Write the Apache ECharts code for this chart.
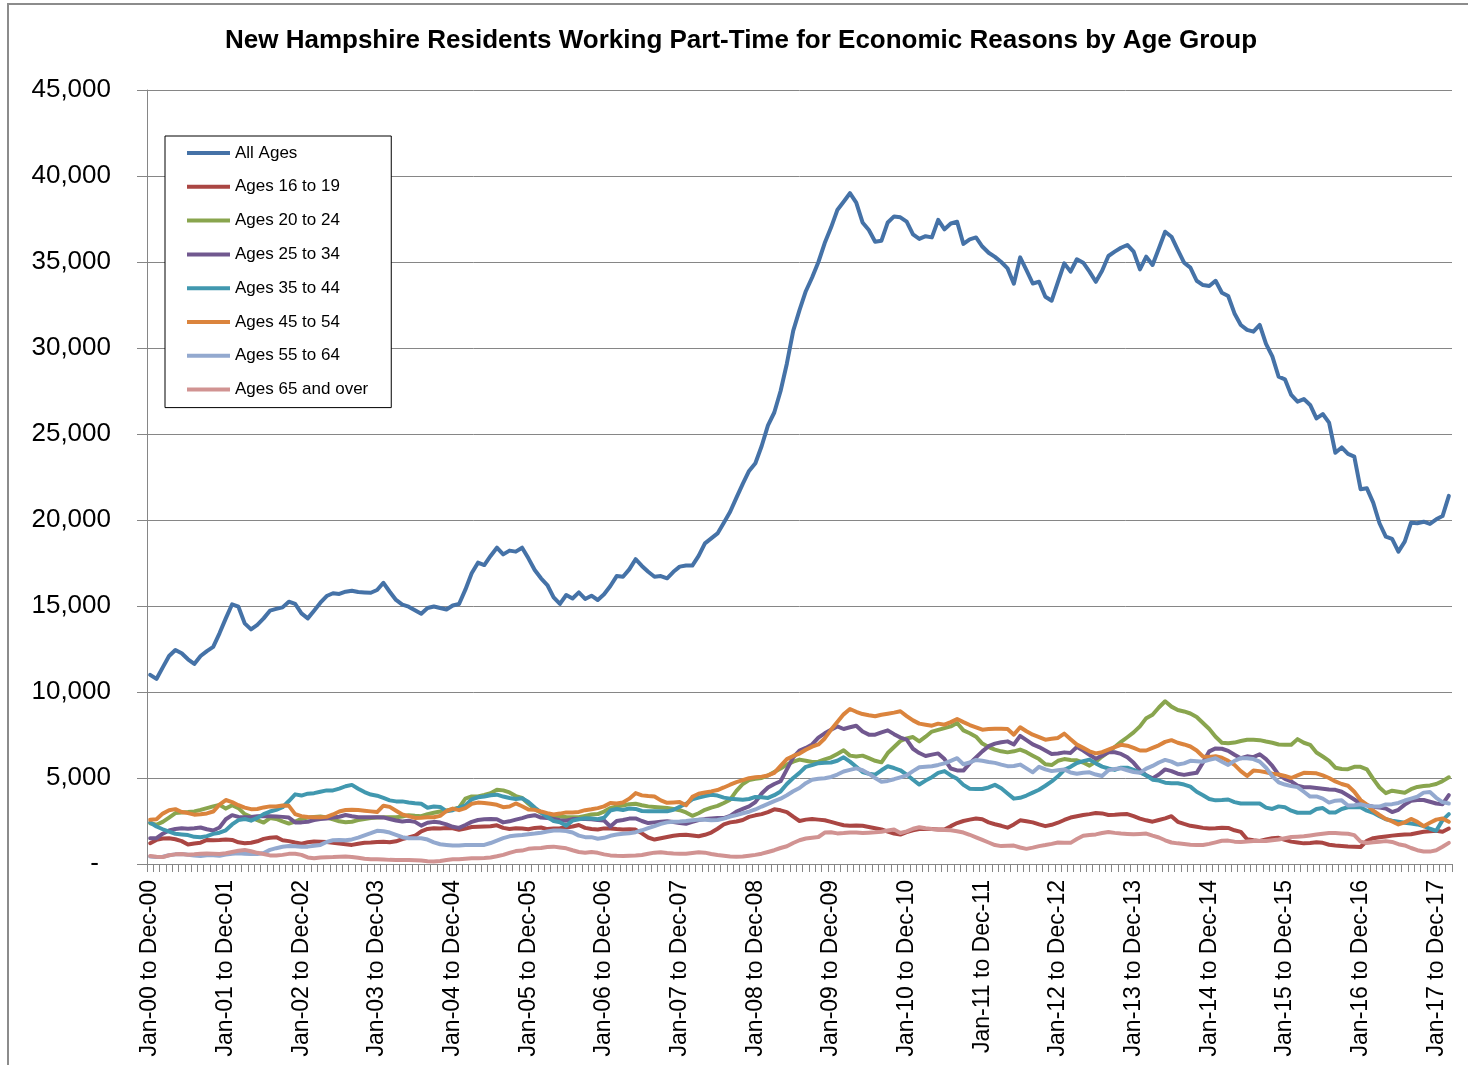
<!DOCTYPE html>
<html>
<head>
<meta charset="utf-8">
<title>New Hampshire Residents Working Part-Time for Economic Reasons by Age Group</title>
<script src="https://cdn.jsdelivr.net/npm/echarts@6/dist/echarts.min.js"></script>
<style>
  html, body { margin: 0; padding: 0; background: #ffffff; }
  #chart { width: 1468px; height: 1065px; }
</style>
</head>
<body>
<div id="chart"></div>
<script>
// Rolling 12-month periods, Jan-00 to Dec-00 through Mar-17 to Feb-18
const monthNames = ['Jan','Feb','Mar','Apr','May','Jun','Jul','Aug','Sep','Oct','Nov','Dec'];
const periodCount = 207;
const periods = [];
for (let i = 0; i < periodCount; i++) {
  const sm = i % 12, sy = Math.floor(i / 12);
  const em = (sm + 11) % 12, ey = sy + (sm + 11 >= 12 ? 1 : 0);
  const yy = n => String(n).padStart(2, '0');
  periods.push(monthNames[sm] + '-' + yy(sy) + ' to ' + monthNames[em] + '-' + yy(ey));
}

const yTicks = [0, 5000, 10000, 15000, 20000, 25000, 30000, 35000, 40000, 45000];

const seriesNames = ['All Ages', 'Ages 16 to 19', 'Ages 20 to 24', 'Ages 25 to 34',
  'Ages 35 to 44', 'Ages 45 to 54', 'Ages 55 to 64', 'Ages 65 and over'];

// One row per twelve periods
const allAges = [
  11000,10760,11430,12090,12440,12250,11900,11630,12090,12380,12620,13410,
  14280,15100,14960,13990,13640,13900,14280,14730,14830,14920,15250,15120,
  14570,14280,14730,15190,15580,15740,15700,15830,15890,15810,15790,15770,
  15930,16350,15830,15350,15080,14960,14750,14550,14880,14970,14880,14800,
  15030,15120,15950,16900,17520,17380,17910,18390,18000,18220,18160,18390,
  17770,17090,16610,16220,15500,15120,15640,15440,15790,15410,15600,15350,
  15680,16160,16740,16700,17130,17720,17330,16990,16700,16740,16610,16990,
  17290,17350,17350,17910,18640,18930,19220,19840,20480,21300,22100,22850,
  23300,24300,25500,26250,27500,29100,31000,32200,33300,34100,35000,36100,
  37000,38020,38500,39000,38450,37300,36860,36180,36240,37300,37650,37600,
  37350,36600,36340,36500,36430,37450,36900,37240,37340,36050,36320,36430,
  35900,35540,35300,35000,34630,33740,35270,34530,33750,33850,32980,32750,
  33850,34920,34440,35160,34960,34440,33850,34490,35350,35600,35830,35990,
  35600,34570,35310,34830,35790,36760,36470,35700,34960,34670,33910,33660,
  33600,33910,33210,33020,32010,31340,31050,30950,31340,30240,29510,28330,
  28180,27270,26880,27030,26690,25910,26160,25660,23910,24220,23840,23680,
  21790,21840,21010,19810,19030,18900,18160,18740,19840,19810,19900,19770,
  20040,20230,21400
];

const ages16to19 = [
  1210,1400,1480,1500,1440,1330,1130,1190,1240,1400,1380,1390,
  1430,1400,1260,1210,1240,1320,1460,1530,1560,1380,1330,1250,
  1180,1260,1310,1300,1280,1240,1190,1150,1110,1180,1230,1250,
  1280,1300,1260,1320,1450,1540,1640,1900,2040,2080,2070,2090,
  2080,1990,2060,2150,2170,2180,2190,2250,2100,2040,2080,2060,
  2020,2100,2120,2030,2060,2080,2120,2180,2270,2100,2040,2010,
  2070,2060,2030,2010,2020,2000,1780,1540,1420,1500,1570,1640,
  1690,1700,1660,1610,1700,1830,2050,2300,2420,2470,2560,2740,
  2830,2900,3020,3180,3120,3020,2750,2500,2580,2610,2580,2540,
  2450,2350,2250,2230,2240,2220,2150,2080,2010,1880,1770,1710,
  1850,1960,2030,2040,2030,2010,2000,2200,2380,2500,2580,2650,
  2600,2420,2310,2220,2110,2300,2540,2480,2420,2300,2200,2280,
  2400,2560,2700,2780,2850,2900,2960,2940,2850,2860,2890,2900,
  2780,2640,2540,2460,2560,2650,2780,2450,2330,2220,2160,2100,
  2060,2080,2110,2100,1960,1870,1440,1380,1340,1420,1500,1520,
  1400,1300,1250,1200,1220,1260,1230,1120,1080,1050,1020,1010,
  990,1350,1500,1550,1600,1650,1680,1710,1730,1800,1870,1900,
  1930,1870,2060
];

const ages20to24 = [
  2370,2280,2450,2700,2960,3000,3020,3060,3150,3250,3350,3440,
  3220,3420,3250,2900,2740,2550,2410,2670,2620,2480,2350,2460,
  2620,2700,2740,2760,2700,2590,2480,2430,2460,2550,2620,2680,
  2710,2720,2720,2720,2760,2840,2800,2780,2900,2980,3050,3110,
  3180,3280,3800,3930,3930,4020,4120,4320,4280,4160,3950,3840,
  3500,3200,2980,2880,2800,2760,2730,2720,2720,2800,2880,2900,
  3050,3250,3350,3400,3480,3500,3420,3350,3320,3290,3260,3200,
  3130,3000,2800,2950,3150,3280,3380,3550,3740,4250,4650,4880,
  4950,5000,5150,5350,5550,5780,5950,6070,6000,5930,5950,6080,
  6200,6400,6610,6300,6250,6300,6150,6000,5910,6450,6800,7150,
  7300,7380,7130,7400,7700,7800,7900,8000,8200,7770,7600,7400,
  7000,6800,6650,6550,6490,6550,6650,6500,6300,6100,5800,5750,
  6000,6100,6050,6030,5900,5720,5950,6250,6500,6800,7100,7370,
  7650,8000,8480,8680,9100,9460,9150,8950,8870,8750,8550,8200,
  7850,7400,7050,7020,7060,7150,7220,7220,7200,7120,7050,6950,
  6930,6930,7260,7050,6930,6480,6250,6000,5600,5520,5510,5650,
  5650,5500,4950,4450,4120,4260,4200,4140,4350,4480,4530,4570,
  4650,4820,5040
];

const ages25to34 = [
  1500,1500,1760,1950,2040,2080,2050,2080,2120,2020,1950,2120,
  2600,2840,2740,2720,2740,2770,2790,2780,2760,2740,2700,2420,
  2420,2460,2550,2610,2650,2700,2750,2850,2780,2720,2720,2720,
  2720,2710,2620,2530,2470,2510,2450,2230,2400,2450,2410,2300,
  2160,2100,2270,2450,2560,2600,2610,2600,2420,2480,2580,2670,
  2780,2840,2700,2670,2620,2540,2520,2610,2610,2610,2600,2560,
  2530,2180,2500,2560,2640,2650,2500,2380,2420,2460,2480,2440,
  2380,2340,2450,2560,2610,2650,2670,2670,2800,3050,3200,3350,
  3600,4100,4450,4650,4810,5500,6200,6600,6750,6950,7350,7600,
  7800,8000,7850,7950,8040,7700,7520,7520,7650,7770,7550,7350,
  7230,6700,6450,6280,6360,6430,6100,5550,5440,5430,5850,6200,
  6550,6850,7000,7080,7130,6950,7450,7200,6950,6800,6600,6400,
  6420,6490,6460,6800,6600,6350,6120,6300,6500,6500,6400,6200,
  5880,5450,5150,4980,5200,5500,5400,5250,5180,5250,5300,5900,
  6550,6720,6700,6580,6350,6150,6260,6210,6380,6100,5700,5200,
  4950,4800,4550,4460,4460,4420,4380,4330,4310,4200,3980,3750,
  3520,3420,3330,3280,3230,3020,3150,3450,3680,3720,3720,3620,
  3520,3480,4010
];

const ages35to44 = [
  2410,2180,2020,1880,1760,1720,1680,1580,1560,1620,1750,1820,
  1960,2300,2550,2620,2520,2680,2900,3050,3150,3300,3660,4050,
  3980,4090,4120,4200,4280,4280,4380,4520,4600,4380,4180,4040,
  3970,3840,3700,3640,3640,3580,3530,3500,3270,3340,3320,3070,
  3130,3280,3400,3760,3880,3920,4000,4030,3920,3840,3780,3820,
  3600,3280,3000,2730,2500,2430,2230,2520,2600,2660,2640,2600,
  2690,3110,3200,3140,3230,3200,3080,3060,3060,3060,3060,3150,
  3330,3500,3760,3860,3950,4020,3980,3860,3800,3770,3740,3780,
  3900,3880,3840,4000,4220,4650,5000,5300,5650,5750,5860,5880,
  5900,6000,6200,5950,5650,5350,5250,5190,5450,5680,5580,5450,
  5200,4900,4620,4850,5050,5300,5400,5150,4950,4600,4380,4360,
  4360,4450,4600,4400,4100,3800,3850,3980,4150,4320,4550,4800,
  5100,5480,5650,5870,5980,6070,5850,5660,5550,5470,5600,5600,
  5470,5320,5150,4900,4850,4730,4700,4690,4620,4500,4200,4000,
  3780,3700,3720,3750,3600,3520,3520,3520,3520,3280,3200,3350,
  3300,3100,2980,2980,2980,3200,3250,3000,3000,3200,3300,3320,
  3300,3100,2980,2780,2600,2520,2460,2400,2350,2300,2200,2050,
  1930,2550,2900
];

const ages45to54 = [
  2570,2600,2930,3120,3190,3020,2960,2870,2890,2940,3050,3450,
  3720,3600,3420,3280,3190,3200,3290,3350,3340,3400,3380,2900,
  2780,2730,2720,2720,2740,2880,3050,3140,3150,3140,3100,3060,
  3020,3390,3320,3100,2880,2780,2680,2690,2720,2720,2800,3080,
  3220,3130,3250,3500,3570,3550,3500,3440,3300,3340,3520,3360,
  3170,3150,3050,2960,2880,2930,3000,3000,3030,3130,3180,3250,
  3350,3550,3520,3580,3800,4120,3990,3950,3920,3700,3560,3580,
  3600,3420,3900,4080,4160,4220,4300,4450,4610,4760,4880,4990,
  5040,5080,5150,5300,5700,6100,6280,6420,6640,6820,6950,7300,
  7800,8250,8700,9010,8850,8720,8650,8590,8680,8740,8800,8880,
  8600,8350,8160,8100,8040,8160,8100,8250,8430,8250,8080,7950,
  7810,7850,7870,7860,7850,7520,7950,7720,7520,7380,7230,7280,
  7330,7580,7250,6940,6750,6550,6430,6500,6650,6800,6930,6880,
  6750,6600,6600,6750,6900,7100,7200,7050,6950,6830,6600,6250,
  6220,6270,6180,6000,5760,5400,5120,5430,5400,5330,5250,5200,
  5120,5000,5150,5300,5290,5270,5150,5000,4800,4650,4550,4200,
  3720,3450,3100,2850,2620,2480,2300,2420,2620,2450,2200,2400,
  2580,2650,2450
];

const ages55to64 = [
  430,400,420,510,560,580,540,500,470,510,510,480,
  550,600,620,590,580,580,640,820,920,1000,1050,1030,
  1010,1010,1060,1110,1280,1380,1400,1380,1430,1530,1660,1790,
  1930,1900,1830,1700,1560,1500,1500,1500,1420,1260,1150,1110,
  1070,1070,1100,1110,1110,1110,1220,1360,1500,1610,1660,1690,
  1730,1770,1820,1890,1950,1950,1920,1830,1650,1560,1560,1470,
  1520,1640,1710,1760,1790,1850,1960,2080,2200,2330,2420,2450,
  2470,2500,2540,2580,2570,2550,2560,2640,2760,2840,2950,3040,
  3170,3340,3500,3660,3800,4000,4230,4420,4700,4900,4960,4990,
  5060,5200,5380,5470,5560,5450,5250,5000,4780,4830,4930,5040,
  5150,5400,5620,5660,5680,5760,5850,6000,6150,5800,5900,6050,
  6000,5930,5880,5780,5690,5700,5780,5560,5330,5650,5500,5400,
  5450,5500,5320,5250,5300,5330,5200,5120,5450,5530,5560,5450,
  5350,5300,5550,5700,5900,6050,5950,5780,5850,6000,5980,5950,
  6050,6150,5950,5760,6000,6150,6150,6100,5950,5600,5100,4750,
  4620,4530,4470,4200,3920,3930,3800,3570,3680,3700,3400,3420,
  3470,3380,3350,3340,3460,3480,3550,3690,3800,3910,4150,4180,
  3850,3600,3520
];

const ages65plus = [
  470,420,400,510,560,580,540,560,590,610,600,580,
  630,700,770,820,740,650,580,500,490,530,590,600,
  530,380,330,380,390,400,420,430,410,360,300,270,
  270,260,240,230,230,230,220,200,160,140,180,230,
  270,270,300,330,330,350,380,450,530,650,750,780,
  880,910,930,990,1010,960,910,800,700,660,700,650,
  560,500,480,470,480,490,520,600,660,680,640,610,
  600,600,640,680,660,580,520,480,440,420,430,480,
  530,600,700,800,930,1030,1220,1380,1480,1530,1570,1830,
  1850,1780,1800,1830,1830,1800,1820,1840,1880,1950,2000,1800,
  1900,2050,2140,2080,2030,2000,1980,1960,1900,1830,1700,1550,
  1400,1250,1100,1040,1060,1070,960,880,950,1040,1100,1170,
  1250,1240,1230,1450,1640,1680,1720,1800,1860,1810,1770,1750,
  1730,1750,1770,1650,1540,1380,1250,1200,1160,1120,1100,1110,
  1170,1260,1350,1360,1300,1280,1310,1340,1340,1340,1380,1420,
  1500,1570,1590,1610,1660,1710,1760,1800,1800,1780,1760,1680,
  1300,1220,1260,1300,1330,1280,1150,1080,930,800,730,720,
  800,1000,1230
];

const seriesValues = [allAges, ages16to19, ages20to24, ages25to34,
  ages35to44, ages45to54, ages55to64, ages65plus];
const seriesColors = ['#4572A7', '#AA4643', '#89A54E', '#71588F',
  '#4198AF', '#DB843D', '#93A9CF', '#D19392'];

const gridGray = '#868686';
const sansFont = "'Liberation Sans', Arial, sans-serif";

const chart = echarts.init(document.getElementById('chart'), null, { renderer: 'canvas' });

chart.setOption({
  animation: false,
  backgroundColor: '#ffffff',
  graphic: [
    {
      type: 'rect',
      shape: { x: 8, y: 4, width: 2000, height: 2000 },
      style: { fill: 'none', stroke: '#8c8c8c', lineWidth: 2 },
      silent: true
    },
    {
      type: 'text',
      x: 741, y: 41,
      style: {
        text: 'New Hampshire Residents Working Part-Time for Economic Reasons by Age Group',
        fill: '#000',
        font: "bold 26px 'Liberation Sans', Arial, sans-serif",
        textAlign: 'center',
        textVerticalAlign: 'middle'
      }
    }
  ],
  legend: {
    orient: 'vertical',
    left: 165,
    top: 136,
    padding: [7, 23, 8, 22],
    itemGap: 13.8,
    itemWidth: 43,
    itemHeight: 4,
    icon: 'rect',
    borderColor: '#000',
    borderWidth: 1,
    backgroundColor: '#ffffff',
    textStyle: { fontFamily: sansFont, fontSize: 17, color: '#000', lineHeight: 20 },
    data: seriesNames
  },
  grid: { left: 147, right: 16, top: 90, bottom: 201, containLabel: false },
  xAxis: {
    type: 'category',
    data: periods,
    boundaryGap: true,
    axisLine: { show: true, lineStyle: { color: gridGray, width: 1 } },
    axisTick: { show: true, interval: 0, length: 8, lineStyle: { color: gridGray, width: 1 } },
    axisLabel: {
      interval: 11,
      rotate: 90,
      margin: 16,
      fontFamily: sansFont,
      fontSize: 23,
      color: '#000'
    },
    splitLine: { show: false }
  },
  yAxis: {
    type: 'value',
    min: yTicks[0],
    max: yTicks[yTicks.length - 1],
    interval: yTicks[1] - yTicks[0],
    axisLine: { show: true, lineStyle: { color: gridGray, width: 1 } },
    axisTick: { show: true, inside: false, length: 10, lineStyle: { color: gridGray, width: 1 } },
    axisLabel: {
      margin: 36,
      fontFamily: sansFont,
      fontSize: 26,
      color: '#000',
      formatter: v => v === 0 ? '{z|-}' : v.toLocaleString('en-US'),
      rich: { z: { fontFamily: sansFont, fontSize: 26, color: '#000', padding: [0, 12, 0, 0] } }
    },
    splitLine: { show: true, lineStyle: { color: gridGray, width: 1 } }
  },
  series: seriesNames.map((name, k) => ({
    name: name,
    type: 'line',
    data: seriesValues[k],
    showSymbol: false,
    symbol: 'none',
    smooth: false,
    color: seriesColors[k],
    lineStyle: { width: 4, color: seriesColors[k], cap: 'round', join: 'round' },
    emphasis: { disabled: true }
  }))
});
</script>
</body>
</html>
